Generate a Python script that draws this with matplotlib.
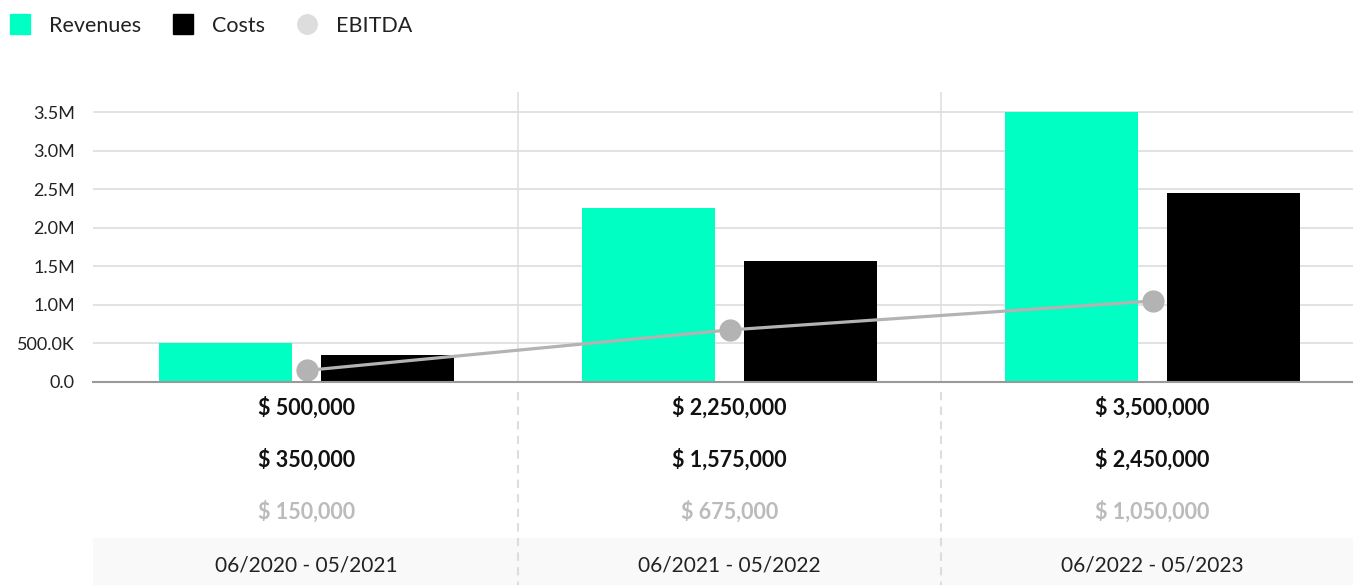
import matplotlib.pyplot as plt
import matplotlib.transforms as mtransforms
from matplotlib.lines import Line2D
from matplotlib.patches import Rectangle
import numpy as np

plt.rcParams['font.family'] = ['Lato', 'DejaVu Sans']

periods = ["06/2020 - 05/2021", "06/2021 - 05/2022", "06/2022 - 05/2023"]
revenues = [500000, 2250000, 3500000]
costs = [350000, 1575000, 2450000]
ebitda = [150000, 675000, 1050000]

teal = "#00ffc2"
black = "#000000"
line_gray = "#b3b3b3"
grid_gray = "#dddddd"

W, H = 1353, 585
fig = plt.figure(figsize=(W / 100, H / 100), dpi=100)
# axes: left 93px, top 92px, bottom 382px, right past the edge
ax = fig.add_axes([93 / W, (H - 382) / H, 1271 / W, 290 / H])

x = np.arange(len(periods))
bw = 0.314
off = 0.192
ax.bar(x - off, revenues, bw, color=teal, zorder=2)
ax.bar(x + off, costs, bw, color=black, zorder=2)
ax.plot(x, ebitda, color=line_gray, lw=2.3, marker="o", ms=15, zorder=3)

ax.set_xlim(-0.505, 2.5)
ax.set_ylim(0, 3.76e6)
ax.set_yticks(np.arange(0, 3.51e6, 5e5))


def fmt(v, pos=None):
    if v >= 1e6:
        return f"{v / 1e6:.1f}M"
    if v >= 1e3:
        return f"{v / 1e3:.1f}K"
    return f"{v:.1f}"


ax.yaxis.set_major_formatter(plt.FuncFormatter(fmt))
ax.tick_params(axis="y", length=0, pad=13, labelsize=13, labelcolor="#222222")
ax.tick_params(axis="x", length=0, labelbottom=False)
ax.grid(axis="y", color=grid_gray, lw=1.2, zorder=0)
ax.set_axisbelow(True)
for s in ["top", "right", "left"]:
    ax.spines[s].set_visible(False)
ax.spines["bottom"].set_color("#999999")
ax.spines["bottom"].set_linewidth(1.5)
ax.spines["bottom"].set_zorder(4)

# category separators
for b in [0.5, 1.5]:
    ax.axvline(b, color="#e0e0e0", lw=1.2, zorder=0)

trans = mtransforms.blended_transform_factory(ax.transData, ax.transAxes)


def ay(ypx):
    return (382 - ypx) / 290


ax.add_patch(Rectangle((0, ay(585)), 1.2, ay(538) - ay(585), transform=ax.transAxes,
                       facecolor="#f9f9f9", edgecolor="none", clip_on=False, zorder=0))

for b in [0.5, 1.5]:
    ax.plot([b, b], [ay(392), ay(585)], transform=trans, color="#dddddd",
            lw=1.5, ls=(0, (4, 3)), clip_on=False, zorder=1)

for i in range(len(periods)):
    ax.text(x[i], ay(408), f"$ {revenues[i]:,}", transform=trans, ha="center", va="center",
            fontsize=15.5, fontweight="bold", color="#111111")
    ax.text(x[i], ay(460), f"$ {costs[i]:,}", transform=trans, ha="center", va="center",
            fontsize=15.5, fontweight="bold", color="#111111")
    ax.text(x[i], ay(512), f"$ {ebitda[i]:,}", transform=trans, ha="center", va="center",
            fontsize=15.5, fontweight="bold", color="#bbbbbb")
    ax.text(x[i], ay(566), periods[i], transform=trans, ha="center", va="center",
            fontsize=15, color="#222222")

handles = [
    Line2D([], [], ls="none", marker="s", ms=14, color=teal),
    Line2D([], [], ls="none", marker="s", ms=14, color=black),
    Line2D([], [], ls="none", marker="o", ms=14, color="#dddddd"),
]
fig.legend(handles, ["Revenues", "Costs", "EBITDA"], loc="center left",
           bbox_to_anchor=(9 / W, 1 - 26 / H), ncol=3, frameon=False, fontsize=15.5,
           handlelength=1.0, handletextpad=0.85, columnspacing=1.45, borderpad=0,
           borderaxespad=0, labelcolor="#222222")

fig.savefig("out.png", dpi=100)
